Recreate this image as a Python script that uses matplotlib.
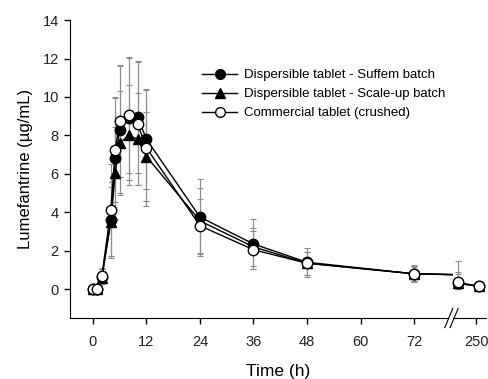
import numpy as np
import matplotlib
matplotlib.use("Agg")
import matplotlib.pyplot as plt
from matplotlib.patches import Rectangle
from matplotlib.lines import Line2D

plt.rcParams['font.family'] = ['Liberation Sans', 'DejaVu Sans']

# Sampling times (h)
time_h = [0, 1, 2, 4, 5, 6, 8, 10, 12, 24, 36, 48, 72, 168, 264]

# Mean plasma concentrations (µg/mL)
suffem_mean = [0, 0, 0.65, 3.6, 6.8, 8.3, 8.9, 8.95, 7.8, 3.75, 2.35, 1.4, 0.8, 0.3, 0.15]
scaleup_mean = [0, 0, 0.6, 3.5, 6.05, 7.6, 8.0, 7.8, 6.9, 3.55, 2.2, 1.35, 0.8, 0.3, 0.15]
commercial_mean = [0, 0, 0.7, 4.1, 7.25, 8.75, 9.05, 8.6, 7.35, 3.3, 2.05, 1.35, 0.8, 0.35, 0.15]

# Standard deviations (µg/mL)
suffem_sd = [0, 0, 0.4, 2.0, 3.2, 3.3, 3.2, 2.9, 2.6, 2.0, 1.3, 0.75, 0.4, 0.6, 0]
scaleup_sd = [0, 0, 0.35, 1.8, 2.4, 2.7, 2.6, 2.4, 2.3, 1.7, 1.0, 0.6, 0.35, 0.5, 0]
commercial_sd = [0, 0, 0.4, 2.4, 2.7, 2.9, 3.0, 3.2, 3.0, 1.4, 1.0, 0.6, 0.45, 1.1, 0]

series_labels = ["Dispersible tablet - Suffem batch",
                 "Dispersible tablet - Scale-up batch",
                 "Commercial tablet (crushed)"]

x_ticks = [0, 12, 24, 36, 48, 60, 72, 250]
y_ticks = [0, 2, 4, 6, 8, 10, 12, 14]

# Broken time axis: linear up to the break, compressed segment afterwards
BREAK_T = 72
BREAK_POS = 80.7
LATE_START_T = 168
LATE_START_POS = 81.9
LATE_SCALE = 0.0491


def axis_pos(t):
    t = np.asarray(t, dtype=float)
    return np.where(t <= BREAK_T, t, LATE_START_POS + (t - LATE_START_T) * LATE_SCALE)


fig = plt.figure(figsize=(4.88, 3.79), dpi=100)
ax = fig.add_axes([0.1434, 0.161, 0.853, 0.786])
ax.set_xlim(-5.16, 88.2)
ax.set_ylim(-1.5, 14)

t = np.array(time_h, dtype=float)
pos = axis_pos(t)
early = t <= LATE_START_T
late = t >= LATE_START_T

styles = [
    dict(marker='o', mfc='black', mec='black'),
    dict(marker='^', mfc='black', mec='black'),
    dict(marker='o', mfc='white', mec='black'),
]
means = [suffem_mean, scaleup_mean, commercial_mean]
sds = [suffem_sd, scaleup_sd, commercial_sd]

clip = Rectangle((-10, -5), BREAK_POS + 10, 30, transform=ax.transData)

for mean, sd in zip(means, sds):
    m = np.array(mean)
    s = np.array(sd)
    # concentrations cannot go below zero, so the lower whisker stops there
    lower = np.minimum(s, m)
    ax.errorbar(pos, m, yerr=[lower, s], fmt='none', ecolor='#8c8c8c',
                elinewidth=0.8, capsize=2, capthick=0.8, zorder=1)

for i, (mean, st) in enumerate(zip(means, styles)):
    m = np.array(mean)
    # early part drawn on the true time scale, cut at the break
    ln, = ax.plot(t[early], m[early], color='black', lw=1.0, zorder=2 + i)
    ln.set_clip_path(clip)
    # late segment after the break
    ax.plot(pos[late], m[late], color='black', lw=1.0, zorder=2 + i)
    ax.plot(pos, m, ls='none', markersize=7.5, markeredgewidth=1.0,
            zorder=5 + i, **st)

# Axes styling
for side in ('top', 'right'):
    ax.spines[side].set_visible(False)
ax.spines['left'].set_bounds(-1.5, 14)
ax.set_xticks(axis_pos(x_ticks))
ax.set_xticklabels([str(v) for v in x_ticks])
ax.set_yticks(y_ticks)
ax.tick_params(direction='out', length=4, width=1, labelsize=10.5, pad=8,
               labelcolor='#222222')
ax.tick_params(axis='y', pad=4)

ax.set_xlabel("Time (h)", fontsize=12.5, labelpad=11)
ax.set_ylabel("Lumefantrine (µg/mL)", fontsize=12, labelpad=7)

# Break marks on the time axis
bx = BREAK_POS - 0.9
for dx in (0.0, 1.2):
    ax.plot([bx + dx - 0.9, bx + dx + 0.9], [-2.0, -1.0], color='black',
            lw=0.8, clip_on=False, zorder=10)
ax.add_patch(Rectangle((bx + 0.1, -1.6), 0.9, 0.2, facecolor='white',
                       edgecolor='none', clip_on=False, zorder=9))

handles = [Line2D([], [], color='black', lw=1.0, markersize=7,
                  markeredgewidth=1.0, **st) for st in styles]
ax.legend(handles, series_labels, loc='upper left',
          bbox_to_anchor=(0.318, 0.835), frameon=False, fontsize=9.5,
          handlelength=2.6, handletextpad=0.55, labelspacing=0.5,
          borderaxespad=0, borderpad=0)

fig.savefig("out.png", dpi=100)
